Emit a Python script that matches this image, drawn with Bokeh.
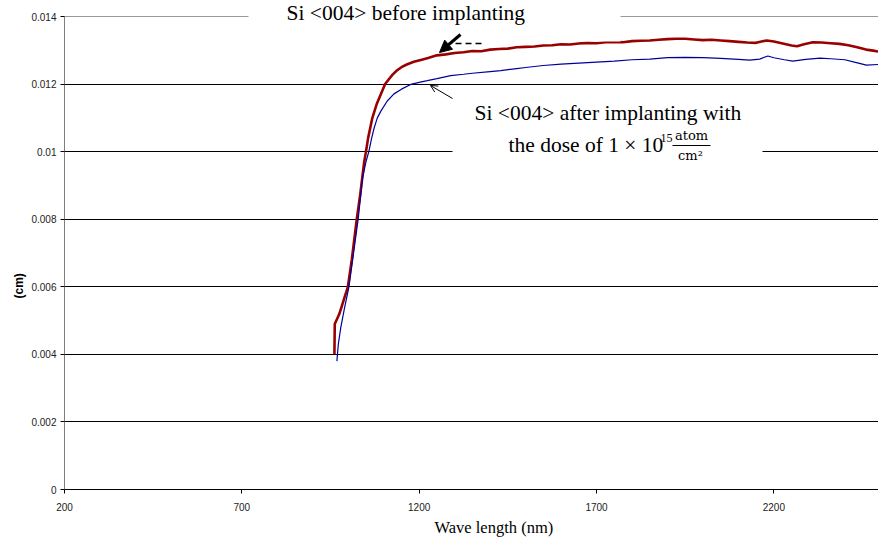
import math
from bokeh.plotting import figure
from bokeh.models import (Range1d, FixedTicker, CustomJSTickFormatter, Label, BoxAnnotation,
                          Arrow, NormalHead, OpenHead, Span, Title)
from bokeh.embed import file_html
from bokeh.resources import INLINE

# ---------------- data ----------------
wl_before = [961, 962, 975, 990, 999, 1010, 1024, 1034, 1045, 1050, 1056, 1068, 1080, 1096, 1104,
             1115, 1125, 1137, 1150, 1165, 1185, 1210, 1225, 1250, 1275, 1300, 1325, 1350, 1375, 1400, 1425,
             1450, 1475, 1500, 1525, 1550, 1575, 1600, 1625, 1650, 1675, 1700, 1725, 1750, 1775,
             1800, 1825, 1850, 1875, 1900, 1925, 1950, 1975, 2000, 2025, 2050, 2075, 2100, 2125,
             2150, 2165, 2180, 2200, 2225, 2250, 2265, 2285, 2310, 2335, 2360, 2385, 2410, 2435,
             2460, 2480, 2495]
cm_before = [0.0040, 0.0049, 0.0052, 0.0057, 0.0060, 0.0068, 0.0080, 0.00875, 0.0097, 0.0100,
             0.0104, 0.0110, 0.0114, 0.0118, 0.0120, 0.01215, 0.01228, 0.01240, 0.01250, 0.01258,
             0.01266, 0.01273, 0.01277, 0.01285, 0.01288, 0.01292, 0.01294, 0.01298, 0.01297, 0.01302, 0.01304,
             0.01305, 0.01309, 0.01310, 0.01311, 0.01314, 0.01315, 0.01318, 0.01317, 0.01320,
             0.01322, 0.01321, 0.01324, 0.01325, 0.01324, 0.01327, 0.01328, 0.01329, 0.01331,
             0.01333, 0.01334, 0.01334, 0.01332, 0.01330, 0.01331, 0.01329, 0.01327, 0.01325,
             0.01323, 0.01322, 0.01326, 0.01329, 0.01326, 0.01320, 0.01314, 0.01312, 0.01318,
             0.01324, 0.01323, 0.01321, 0.01319, 0.01315, 0.01309, 0.01302, 0.01299, 0.01296]

wl_after = [968, 972, 979, 990, 1002, 1015, 1028, 1040, 1050, 1058, 1066, 1073, 1082, 1092, 1110,
            1129, 1150, 1176, 1200, 1223, 1250, 1289, 1325, 1350, 1400, 1430, 1475, 1500, 1550,
            1600, 1650, 1700, 1750, 1800, 1850, 1900, 1950, 2000, 2050, 2100, 2132, 2160, 2183,
            2200, 2230, 2253, 2290, 2330, 2360, 2400, 2430, 2461, 2495]
cm_after = [0.0038, 0.0043, 0.0048, 0.0054, 0.0060, 0.0070, 0.0080, 0.0092, 0.0097, 0.0100,
            0.0104, 0.0107, 0.0110, 0.0112, 0.0115, 0.01171, 0.01185, 0.01199, 0.01205, 0.0121,
            0.01216, 0.01225, 0.01229, 0.01232, 0.01237, 0.01240, 0.01246, 0.01249, 0.01255,
            0.01259, 0.01262, 0.01265, 0.01268, 0.01272, 0.01274, 0.01278, 0.01279, 0.01278,
            0.01276, 0.01273, 0.01271, 0.01274, 0.01283, 0.01278, 0.01272, 0.01268, 0.01273,
            0.01277, 0.01275, 0.01272, 0.01264, 0.01256, 0.01258]

x_ticks = [200, 700, 1200, 1700, 2200]
y_ticks = [0, 0.002, 0.004, 0.006, 0.008, 0.010, 0.012, 0.014]

label_before = "Si <004> before implanting"
label_after_1 = "Si <004> after implanting with"
label_after_2 = "the dose of 1 \u00d7 10"
label_exp = "15"
label_num = "atom"
label_den = "cm\u00b2"
x_title = "Wave length (nm)"
y_title = "(cm)"

# ---------------- layout helpers (pixel -> data) ----------------
X0, X1 = 200, 2495
Y0, YTOP = 0.0, 0.014
FL, FR, FB = 64, 878, 489
PX_PER_UNIT_Y = (489 - 16) / YTOP          # 0.014 sits 16 px below the top of the page
Y1 = FB / PX_PER_UNIT_Y                     # frame reaches the very top of the page


def px(x):
    return X0 + (x - FL) * (X1 - X0) / (FR - FL)


def py(y):
    return (FB - y) / PX_PER_UNIT_Y


p = figure(width=878, height=544, output_backend="svg", toolbar_location=None,
           x_range=Range1d(X0, X1), y_range=Range1d(Y0, Y1),
           min_border_left=FL, min_border_right=0, min_border_top=0, min_border_bottom=544 - FB)
p.outline_line_color = None
p.background_fill_color = "white"

# axes
for ax in (p.xaxis[0], p.yaxis[0]):
    ax.axis_line_color = "black"
    ax.axis_line_width = 1
    ax.major_tick_line_color = "black"
    ax.major_tick_out = 4
    ax.major_tick_in = 0
    ax.minor_tick_line_color = None
    ax.major_label_text_font = "Liberation Sans"
    ax.major_label_text_font_size = "10px"
    ax.major_label_text_color = "#222222"
p.yaxis[0].axis_line_color = None
p.xaxis[0].ticker = FixedTicker(ticks=x_ticks)
p.yaxis[0].ticker = FixedTicker(ticks=y_ticks)
p.xaxis[0].major_label_standoff = 9
p.yaxis[0].major_label_standoff = 4
p.yaxis[0].formatter = CustomJSTickFormatter(
    code="var s = tick.toFixed(3).replace(/0+$/, '').replace(/\\.$/, ''); return s;")

# axis titles
p.add_layout(Title(text=x_title, align="left", offset=370, text_font="Liberation Serif",
                   text_font_size="16.5px", text_font_style="normal", text_color="black", standoff=5), "below")
p.add_layout(Title(text=y_title, align="left", offset=191, text_font="Liberation Sans",
                   text_font_size="12px", text_font_style="bold", text_color="black", standoff=6), "left")

# grid
p.xgrid.grid_line_color = None
p.ygrid.ticker = FixedTicker(ticks=[0.002, 0.004, 0.006, 0.008, 0.010, 0.012])
p.ygrid.grid_line_color = "black"
p.ygrid.grid_line_width = 1
p.add_layout(Span(location=YTOP, dimension="width", line_color="#999999", line_width=1, level="underlay"))
# the y axis line stops at 0.014
p.add_layout(Arrow(start=None, end=None, x_start=X0, y_start=0, x_end=X0, y_end=YTOP,
                   line_color="black", line_width=1, level="underlay"))

# curves
p.line(wl_before, cm_before, line_color="#990000", line_width=2.6)
p.line(wl_after, cm_after, line_color="#000099", line_width=1.2)

# white boxes behind the annotations
p.add_layout(BoxAnnotation(left=px(248), right=px(620), top=Y1, bottom=py(41),
                           fill_color="white", fill_alpha=1, line_alpha=0))
p.add_layout(BoxAnnotation(left=px(452), right=px(762), top=py(95), bottom=py(165),
                           fill_color="white", fill_alpha=1, line_alpha=0))

serif = "Liberation Serif"
fs = "21.5px"
p.add_layout(Label(x=px(286), y=py(12), text=label_before, text_font=serif, text_font_size=fs,
                   text_color="black", text_baseline="alphabetic", text_align="left"))
p.add_layout(Label(x=px(474), y=py(112), text=label_after_1, text_font=serif, text_font_size=fs,
                   text_color="black", text_baseline="alphabetic", text_align="left"))
p.add_layout(Label(x=px(508), y=py(144), text=label_after_2, text_font=serif, text_font_size=fs,
                   text_color="black", text_baseline="alphabetic", text_align="left"))
p.add_layout(Label(x=px(660), y=py(137), text=label_exp, text_font=serif, text_font_size="12px",
                   text_color="black", text_baseline="alphabetic", text_align="left"))
p.add_layout(Label(x=px(691), y=py(135), text=label_num, text_font="DejaVu Serif", text_font_size="13px",
                   text_color="black", text_baseline="alphabetic", text_align="center"))
p.add_layout(Arrow(start=None, end=None, x_start=px(672), y_start=py(145), x_end=px(710), y_end=py(145),
                   line_color="black", line_width=1))
p.add_layout(Label(x=px(690), y=py(155), text=label_den, text_font="DejaVu Serif", text_font_size="13px",
                   text_color="black", text_baseline="alphabetic", text_align="center"))

# arrows
p.add_layout(Arrow(end=NormalHead(size=12, fill_color="black", line_color="black"),
                   x_start=px(460), y_start=py(34), x_end=px(439), y_end=py(52),
                   line_color="black", line_width=3))
p.add_layout(Arrow(end=OpenHead(size=7, line_color="black", line_width=1),
                   x_start=px(452), y_start=py(98), x_end=px(430), y_end=py(85),
                   line_color="black", line_width=1))
p.add_layout(Arrow(start=None, end=None, x_start=px(455), y_start=py(43), x_end=px(484), y_end=py(43),
                   line_color="black", line_width=1.5, line_dash="6 4"))

open("out.html", "w").write(file_html(p, INLINE))
